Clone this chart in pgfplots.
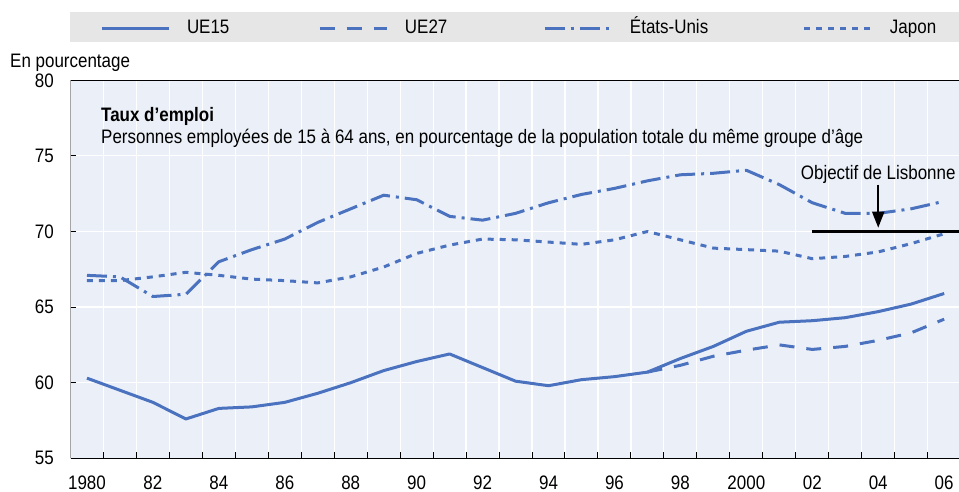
\documentclass[border=0pt]{standalone}
\usepackage{fontspec}
\setmainfont{Liberation Sans}[FakeStretch=0.87]
\usepackage{pgfplots}
\pgfplotsset{compat=1.18}
\usetikzlibrary{arrows.meta}
\definecolor{oecdblue}{RGB}{74,114,190}
\definecolor{plotbg}{RGB}{235,240,248}
\definecolor{leggray}{RGB}{230,230,230}
\newcommand\myfont{\fontsize{19.5}{22}\selectfont}
\begin{document}
\begin{tikzpicture}[font=\myfont]
\useasboundingbox (0,0) rectangle (959pt,492pt);
\fill[leggray] (70pt,450pt) rectangle (959pt,480pt);
\begin{axis}[
  at={(70.5pt,33.7pt)}, anchor=south west,
  scale only axis, width=888.5pt, height=378pt,
  xmin=1979.5, xmax=2006.45, ymin=55, ymax=80,
  axis background/.style={fill=plotbg},
  separate axis lines,
  x axis line style={line width=1.5pt},
  y axis line style={draw=none},
  xtick={1980.5,1981.5,...,2005.5}, xticklabels={},
  extra x ticks={1980,1982,...,2006},
  extra x tick labels={1980,82,84,86,88,90,92,94,96,98,2000,02,04,06},
  extra x tick style={grid=none, major tick length=0pt},
  ytick={55,60,...,80},
  grid=major, major grid style={white, line width=1.2pt},
  tick align=inside, tick pos=left, major tick length=6pt,
  tick style={black, line width=1pt},
  yticklabel style={anchor=east, inner sep=0pt, xshift=-16.5pt, font=\myfont},
  xticklabel style={anchor=north, inner sep=0pt, yshift=-17.5pt, font=\myfont},
  /pgf/number format/assume math mode=true,
  legend style={draw=none, fill=none, at={(axis description cs:0.0332,1.136)}, anchor=west,
    font=\myfont, inner sep=0pt, outer sep=0pt,
    /tikz/every odd column/.style={column sep=17pt},
    nodes={inner sep=0pt, text height=14pt, text depth=4pt}},
  legend columns=4,
  legend image code/.code={\draw[#1] (0pt,0pt) -- (67pt,0pt);},
  every axis plot/.append style={line join=round},
]
\addplot[oecdblue, line width=3pt] coordinates {
(1980,60.3) (1981,59.5) (1982,58.7) (1983,57.6) (1984,58.3) (1985,58.4) (1986,58.7)
(1987,59.3) (1988,60.0) (1989,60.8) (1990,61.4) (1991,61.9) (1992,61.0) (1993,60.1)
(1994,59.8) (1995,60.2) (1996,60.4) (1997,60.7) (1998,61.6) (1999,62.4) (2000,63.4)
(2001,64.0) (2002,64.1) (2003,64.3) (2004,64.7) (2005,65.2) (2006,65.9)};
\addlegendentry[text width=131pt]{UE15}
\addplot[oecdblue, line width=3pt, dash pattern=on 15pt off 12pt] coordinates {
(1997,60.7) (1998,61.15) (1999,61.75) (2000,62.15) (2001,62.5) (2002,62.2)
(2003,62.4) (2004,62.8) (2005,63.3) (2006,64.2)};
\addlegendentry[text width=138pt]{UE27}
\addplot[oecdblue, line width=3pt, dash pattern=on 20pt off 6pt on 3pt off 6pt] coordinates {
(1980,67.1) (1981,67.0) (1982,65.7) (1983,65.85) (1984,68.0) (1985,68.8) (1986,69.5)
(1987,70.6) (1988,71.5) (1989,72.4) (1990,72.1) (1991,71.0) (1992,70.75) (1993,71.2)
(1994,71.9) (1995,72.45) (1996,72.85) (1997,73.35) (1998,73.75) (1999,73.85) (2000,74.05)
(2001,73.1) (2002,71.9) (2003,71.2) (2004,71.2) (2005,71.5) (2006,72.0)};
\addlegendentry[text width=173pt]{États-Unis}
\addplot[oecdblue, line width=3pt, dash pattern=on 6pt off 6pt] coordinates {
(1980,66.75) (1981,66.75) (1982,67.0) (1983,67.3) (1984,67.1) (1985,66.85) (1986,66.75)
(1987,66.6) (1988,67.0) (1989,67.65) (1990,68.55) (1991,69.1) (1992,69.5) (1993,69.45)
(1994,69.3) (1995,69.15) (1996,69.45) (1997,70.0) (1998,69.45) (1999,68.9) (2000,68.8)
(2001,68.7) (2002,68.2) (2003,68.35) (2004,68.65) (2005,69.2) (2006,69.85)};
\addlegendentry[text width=60pt]{Japon}
\addplot[black, line width=3pt, forget plot] coordinates {(2002,70) (2006.45,70)};
\draw[line width=1.5pt] (rel axis cs:0,0) -- (rel axis cs:0,1);
\draw[line width=2pt, -{Triangle[width=12pt,length=16pt]}] (axis cs:2004,73.1) -- (axis cs:2004,70.25);
\node[anchor=base, inner sep=0pt] at (axis cs:2004,73.47) {Objectif de Lisbonne};
\end{axis}
\node[anchor=base west, inner sep=0pt, font=\myfont\bfseries] at (101pt,370.5pt) {Taux d’emploi};
\node[anchor=base west, inner sep=0pt] at (101pt,348.5pt) {Personnes employées de 15 à 64 ans, en pourcentage de la population totale du même groupe d’âge};
\node[anchor=base west, inner sep=0pt] at (10pt,424pt) {En pourcentage};
\end{tikzpicture}
\end{document}
